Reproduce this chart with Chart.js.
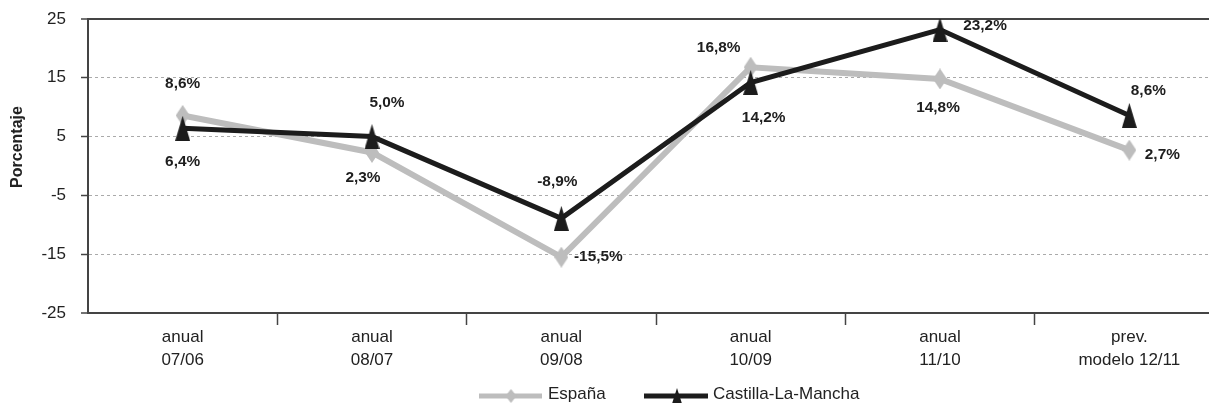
<!DOCTYPE html>
<html>
<head>
<meta charset="utf-8">
<script src="https://cdn.jsdelivr.net/npm/chart.js@4.4.1/dist/chart.umd.min.js"></script>
<style>
  html, body { margin: 0; padding: 0; background: #fff; overflow: hidden; }
  canvas { display: block; }
</style>
</head>
<body>
<canvas id="chart" width="1224" height="403"></canvas>
<script>
// Tasas de variación anual (%)
const categories = [
  ['anual', '07/06'],
  ['anual', '08/07'],
  ['anual', '09/08'],
  ['anual', '10/09'],
  ['anual', '11/10'],
  ['prev.', 'modelo 12/11']
];
const espana = [8.6, 2.3, -15.5, 16.8, 14.8, 2.7];
const castillaLaMancha = [6.4, 5.0, -8.9, 14.2, 23.2, 8.6];
const yTicks = [-25, -15, -5, 5, 15, 25];
const seriesNames = ['España', 'Castilla-La-Mancha'];
const yTitle = 'Porcentaje';

const FONT = '"Liberation Sans", Arial, Helvetica, sans-serif';
const GREY = '#bdbdbd';
const BLACK = '#1c1c1c';
const AXIS = '#444444';

// Plot frame wanted: top edge and right edge (the last category runs past the window)
const AREA_TOP = 19;
const AREA_RIGHT = 1224;

// Data-label offsets (px) from each point: [dx, dy]
const espanaLabelPos = [[0, -31], [-9, 26], [37, 0], [-32, -19], [-2, 29], [33, 5]];
const clmLabelPos = [[0, 34], [15, -33], [-4, -36], [13, 36], [45, -3], [19, -24]];

function fmt(v) { return v.toFixed(1).replace('.', ',') + '%'; }

// Marker images
function makeDiamond(w, h, color) {
  const c = document.createElement('canvas');
  c.width = w; c.height = h;
  const g = c.getContext('2d');
  g.fillStyle = color;
  g.beginPath();
  g.moveTo(w / 2, 0); g.lineTo(w, h / 2); g.lineTo(w / 2, h); g.lineTo(0, h / 2);
  g.closePath(); g.fill();
  return c;
}
function makeTriangle(w, h, color) {
  const c = document.createElement('canvas');
  c.width = w; c.height = h;
  const g = c.getContext('2d');
  g.fillStyle = color;
  g.beginPath();
  g.moveTo(w / 2, 0); g.lineTo(w, h); g.lineTo(0, h);
  g.closePath(); g.fill();
  return c;
}
const diamondImg = makeDiamond(14, 21, GREY);
const triangleImg = makeTriangle(15, 25, BLACK);

const labelPlugin = {
  id: 'valueLabels',
  afterDatasetsDraw(chart) {
    const ctx = chart.ctx;
    const sets = [[0, espana, espanaLabelPos], [1, castillaLaMancha, clmLabelPos]];
    ctx.save();
    ctx.fillStyle = '#1e1e1e';
    ctx.font = 'bold 14px ' + FONT;
    ctx.textAlign = 'center';
    ctx.textBaseline = 'middle';
    sets.forEach(([di, values, pos]) => {
      const meta = chart.getDatasetMeta(di);
      meta.data.forEach((pt, i) => {
        const x = pt.x + pos[i][0];
        const y = pt.y + pos[i][1];
        ctx.save();
        ctx.translate(x, y);
        ctx.scale(1.1, 1);
        ctx.fillText(fmt(values[i]), 0, 0);
        ctx.restore();
      });
    });
    ctx.restore();
  }
};

const decorPlugin = {
  id: 'decor',
  afterDraw(chart) {
    const ctx = chart.ctx;
    ctx.save();
    // y-axis title
    ctx.fillStyle = '#222';
    ctx.font = 'bold 16px ' + FONT;
    ctx.textAlign = 'center';
    ctx.textBaseline = 'middle';
    ctx.translate(18, 147);
    ctx.rotate(-Math.PI / 2);
    ctx.fillText(yTitle, 0, 0);
    ctx.restore();

    // legend
    ctx.save();
    const ly = 396;
    ctx.lineWidth = 5;
    ctx.strokeStyle = GREY;
    ctx.beginPath(); ctx.moveTo(479, ly); ctx.lineTo(542, ly); ctx.stroke();
    ctx.drawImage(makeDiamond(11, 14, GREY), 511 - 5.5, ly - 7);
    ctx.strokeStyle = BLACK;
    ctx.beginPath(); ctx.moveTo(644, ly); ctx.lineTo(708, ly); ctx.stroke();
    ctx.drawImage(makeTriangle(14, 22, BLACK), 677 - 7, ly - 8);
    ctx.fillStyle = '#222';
    ctx.font = '17px ' + FONT;
    ctx.textAlign = 'left';
    ctx.textBaseline = 'middle';
    ctx.fillText(seriesNames[0], 548, ly - 2);
    ctx.fillText(seriesNames[1], 713, ly - 2);
    ctx.restore();
  }
};

const chart = new Chart(document.getElementById('chart'), {
  type: 'line',
  data: {
    labels: categories,
    datasets: [
      {
        label: seriesNames[0],
        data: espana,
        borderColor: GREY,
        backgroundColor: GREY,
        borderWidth: 6,
        pointStyle: diamondImg,
        pointRadius: 8,
        tension: 0,
        order: 2
      },
      {
        label: seriesNames[1],
        data: castillaLaMancha,
        borderColor: BLACK,
        backgroundColor: BLACK,
        borderWidth: 5,
        pointStyle: triangleImg,
        pointRadius: 8,
        tension: 0,
        order: 1
      }
    ]
  },
  options: {
    responsive: false,
    animation: false,
    layout: { autoPadding: false, padding: { top: AREA_TOP, left: 0, right: 0, bottom: 0 } },
    plugins: {
      legend: { display: false },
      tooltip: { enabled: false }
    },
    scales: {
      x: {
        offset: true,
        afterFit(s) { s.height = 90; },
        grid: {
          offset: true,
          drawOnChartArea: false,
          drawTicks: true,
          tickLength: 12,
          tickWidth: 1.5,
          tickColor: (c) => (c.index === 0 ? 'rgba(0,0,0,0)' : AXIS)
        },
        border: { display: true, color: AXIS, width: 2 },
        ticks: {
          color: '#222',
          padding: 0,
          maxRotation: 0,
          autoSkip: false,
          font: { family: FONT, size: 17, lineHeight: 1.4 }
        }
      },
      y: {
        min: -25,
        max: 25,
        afterFit(s) {
          s.width = 88;
          s.paddingTop = 0;
          s.paddingBottom = 0;
        },
        afterBuildTicks(s) { s.ticks = yTicks.map(v => ({ value: v })); },
        grid: {
          drawTicks: true,
          tickLength: 7,
          tickWidth: 1.5,
          tickColor: AXIS,
          color: (c) => (c.tick && Math.abs(c.tick.value) === 25 ? AXIS : '#aaaaaa'),
          lineWidth: (c) => (c.tick && Math.abs(c.tick.value) === 25 ? 2 : 1)
        },
        border: {
          display: true,
          color: AXIS,
          width: 2,
          dash: (c) => (c.tick && Math.abs(c.tick.value) === 25 ? [] : [3, 3])
        },
        ticks: {
          color: '#222',
          padding: 15,
          font: { family: FONT, size: 17 }
        }
      }
    }
  },
  plugins: [labelPlugin, decorPlugin]
});

// Nudge the layout padding so the plot frame sits exactly where wanted
for (let k = 0; k < 3; k++) {
  const a = chart.chartArea;
  const dTop = AREA_TOP - a.top;
  const dRight = a.right - AREA_RIGHT;
  if (Math.abs(dTop) < 0.5 && Math.abs(dRight) < 0.5) break;
  chart.options.layout.padding.top += dTop;
  chart.options.layout.padding.right += dRight;
  chart.update();
}
</script>
</body>
</html>
